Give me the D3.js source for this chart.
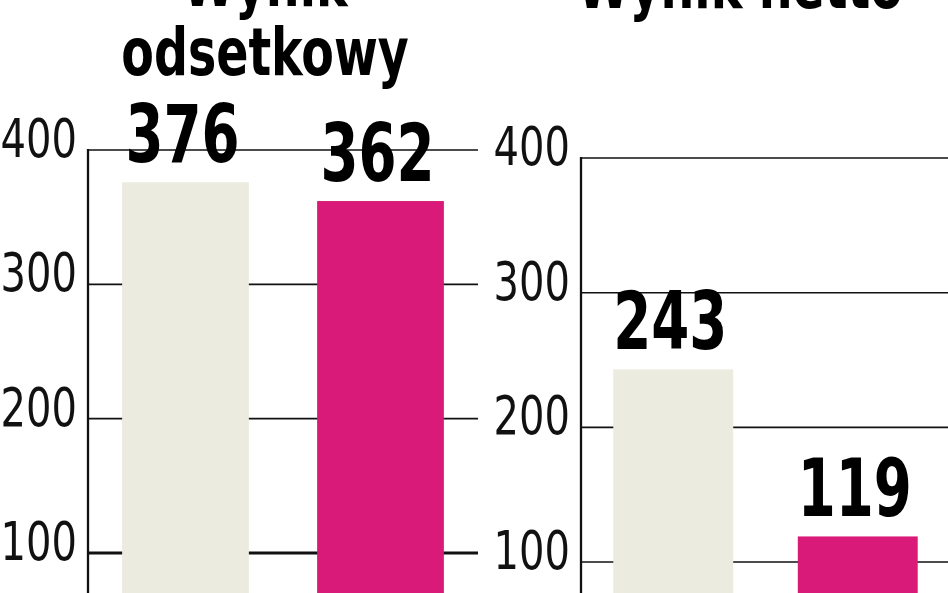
<!DOCTYPE html>
<html>
<head>
<meta charset="utf-8">
<script src="https://cdn.jsdelivr.net/npm/d3@7"></script>
<style>
    html, body { margin: 0; padding: 0; background: #fff; overflow: hidden; }
    text { font-family: "Liberation Sans Narrow", "DejaVu Sans Condensed", "Arial Narrow", sans-serif; }
</style>
</head>
<body>
<script>
window.onload = main;

// dane z wykresu
const categories = ["okres 1", "okres 2"];
const odsetkowyValues = [376, 362];
const nettoValues = [243, 119];
const yTicks = [100, 200, 300, 400];
const barColors = ["#ebebdf", "#da1a78"];
const leftTitle = ["Wynik", "odsetkowy"];
const rightTitle = ["Wynik netto"];

const svgWidth = 948;
const svgHeight = 593;

// zwezenie czcionki (brak wersji "narrow")
const tickSqueeze = 0.84;
const valueSqueeze = 0.76;
const titleSqueeze = 0.8;

function main() {
    const svg = d3.select("body")
        .append("svg")
        .attr("width", svgWidth)
        .attr("height", svgHeight);

    render_panel(svg, {
        values: odsetkowyValues,
        title: leftTitle,
        titleX: 265, titleY: 6,
        x0: 88, x1: 478,
        yBottom: 687.3, yTop: 150,
        thickTick: 100
    });

    render_panel(svg, {
        values: nettoValues,
        title: rightTitle,
        titleX: 740, titleY: 8,
        x0: 581, x1: 950,
        yBottom: 696.7, yTop: 158,
        thickTick: null
    });
}

function render_panel(svg, p) {
    const g = svg.append("g");

    const x = d3.scaleBand()
        .domain(categories)
        .range([p.x0, p.x1])
        .paddingInner(0.35)
        .paddingOuter(0.175);

    const y = d3.scaleLinear()
        .domain([0, 400])
        .range([p.yBottom, p.yTop]);

    // linie siatki
    g.selectAll("line.grid")
        .data(yTicks)
        .join("line")
        .attr("class", "grid")
        .attr("x1", p.x0)
        .attr("x2", p.x1)
        .attr("y1", d => y(d))
        .attr("y2", d => y(d))
        .attr("stroke", "#111")
        .attr("stroke-width", d => d === p.thickTick ? 3 : 1.6);

    // os pionowa
    g.append("line")
        .attr("x1", p.x0)
        .attr("x2", p.x0)
        .attr("y1", y(400) - 1)
        .attr("y2", svgHeight)
        .attr("stroke", "#111")
        .attr("stroke-width", 2.3);

    // etykiety osi
    g.selectAll("text.tick")
        .data(yTicks)
        .join("text")
        .attr("class", "tick")
        .attr("transform", d => `translate(${p.x0 - 11},${y(d) + 7}) scale(${tickSqueeze},1)`)
        .attr("text-anchor", "end")
        .attr("font-size", 53)
        .attr("fill", "#111")
        .text(d => d);

    // slupki
    g.selectAll("rect")
        .data(p.values)
        .join("rect")
        .attr("x", (d, i) => x(categories[i]))
        .attr("width", x.bandwidth())
        .attr("y", d => y(d))
        .attr("height", d => y(0) - y(d))
        .attr("fill", (d, i) => barColors[i]);

    // wartosci
    g.selectAll("text.value")
        .data(p.values)
        .join("text")
        .attr("class", "value")
        .attr("transform", (d, i) =>
            `translate(${x(categories[i]) + x.bandwidth() / 2 - 3},${y(d) - 20}) scale(${valueSqueeze},1)`)
        .attr("text-anchor", "middle")
        .attr("font-size", 80)
        .attr("font-weight", "bold")
        .attr("fill", "#000")
        .text(d => d);

    // tytul
    g.selectAll("text.title")
        .data(p.title)
        .join("text")
        .attr("class", "title")
        .attr("transform", (d, i) => `translate(${p.titleX},${p.titleY + i * 69}) scale(${titleSqueeze},1)`)
        .attr("text-anchor", "middle")
        .attr("font-size", 66)
        .attr("font-weight", "bold")
        .attr("fill", "#000")
        .text(d => d);
}
</script>
</body>
</html>
